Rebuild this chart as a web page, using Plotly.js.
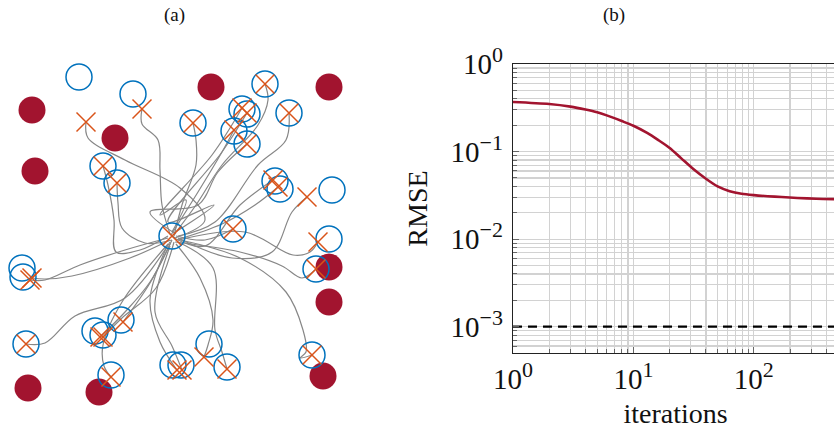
<!DOCTYPE html>
<html>
<head>
<meta charset="utf-8">
<script src="https://cdn.plot.ly/plotly-3.0.1.min.js"></script>
<style>
  html, body { margin: 0; padding: 0; background: #fff; width: 834px; height: 429px; overflow: hidden; }
  #chart { width: 846px; height: 429px; }
</style>
</head>
<body>
<div id="chart"></div>
<script>
// ---------- (a) swarm field: targets, final agent positions, obstacles ----------
const targetX = [133, 79, 103, 117, 193, 265, 242, 247, 234, 247, 289, 275, 280, 332, 172,
                 233, 329, 316, 22, 23, 26, 95, 103, 121, 111, 209, 227, 173, 181, 312];
const targetY = [94, 77, 166, 183, 123, 84, 109, 114, 131, 144, 113, 181, 189, 190, 236,
                 229, 239, 269, 268, 277, 344, 331, 335, 320, 375, 344, 367, 365, 365, 355];

const agentX = [142, 86, 103, 117, 193, 265, 242, 247, 234, 247, 289, 273, 278, 307, 172,
                233, 318, 316, 30, 32, 26, 100, 103, 123, 111, 204, 227, 177, 182, 312];
const agentY = [109, 122, 166, 183, 123, 84, 108, 113, 130, 144, 113, 180, 187, 197, 236,
                229, 242, 269, 280, 278, 344, 337, 337, 322, 377, 357, 369, 370, 370, 355];

const obstacleX = [32, 35, 115, 211, 329, 329, 329, 323, 28, 99];
const obstacleY = [110, 171, 138, 87, 87, 267, 302, 376, 388, 392];

// trajectory waypoints of each agent, from its start near the centre (final point = agent position)
const pathX = [
  [170, 162, 160, 158, 142],
  [175, 205, 180, 125, 88],
  [168, 140, 116, 114, 108],
  [172, 145, 122, 118],
  [174, 182, 196, 196],
  [176, 196, 222, 258, 268],
  [172, 186, 160, 212],
  [174, 214, 168, 222],
  [171, 198, 222],
  [176, 150, 198, 218],
  [178, 215, 258, 286],
  [174, 205, 240],
  [176, 222, 255],
  [178, 232, 272, 292],
  [170, 175],
  [176, 205],
  [178, 245, 293, 310],
  [175, 240, 282, 302],
  [168, 125, 80, 45],
  [170, 130, 72, 45],
  [170, 125, 75, 45],
  [172, 150, 125],
  [174, 156, 122],
  [170, 150],
  [168, 122, 103, 104],
  [176, 200, 213, 208],
  [178, 213, 215, 222],
  [168, 150, 160],
  [170, 155, 172],
  [180, 240, 286, 303, 306, 300]
];
const pathY = [
  [234, 205, 170, 140, 124],
  [238, 220, 188, 160, 138],
  [236, 250, 252, 220, 185],
  [240, 243, 228, 203],
  [236, 205, 165, 140],
  [232, 205, 165, 125, 100],
  [232, 200, 215, 155],
  [233, 205, 222, 152],
  [235, 192, 152],
  [234, 212, 205, 172],
  [236, 222, 165, 140],
  [238, 246, 205],
  [240, 224, 205],
  [238, 258, 252, 212],
  [234, 238],
  [236, 240],
  [240, 232, 255, 252],
  [242, 252, 266, 278],
  [238, 250, 265, 280],
  [240, 258, 276, 279],
  [242, 298, 316, 343],
  [240, 282, 312],
  [242, 288, 318],
  [244, 283],
  [244, 302, 345, 366],
  [244, 278, 320, 345],
  [242, 268, 330, 352],
  [244, 300, 342],
  [246, 312, 346],
  [240, 258, 292, 330, 352, 358]
];

// ---------- (b) convergence of the RMSE ----------
const iterations = [1, 2, 3, 4, 5, 6, 8, 10, 13, 16, 20, 25, 32, 40, 50, 63, 79, 100,
                    130, 170, 230, 330, 500];
const rmse = [0.368, 0.349, 0.326, 0.302, 0.281, 0.259, 0.223, 0.197, 0.163, 0.136, 0.110,
              0.0836, 0.0619, 0.0489, 0.0400, 0.0353, 0.0330, 0.0318, 0.0309, 0.0302,
              0.0295, 0.0289, 0.0286];
const tolerance = 1e-3;

const xTickVals = [1, 10, 100];
const xTickExps = ['0', '1', '2'];
const yTickVals = [1e-3, 1e-2, 1e-1, 1];
const yTickExps = ['\u22123', '\u22122', '\u22121', '0'];

// ---------- styling ----------
const BLUE = '#0072BD', ORANGE = '#D95319', RED = '#A2142F', GREY = 'rgb(135,135,135)';
const SERIF = '"Liberation Serif", "DejaVu Serif", serif';
const W = 846, H = 429;
const powerLabel = e => '10<sup><span style="font-size:22px">' + e + '</span></sup>';

// minor grid positions: digits 2..9 of every decade
function minorLogTicks(lo, hi) {
  const vals = [];
  for (let e = lo; e <= hi; e++) {
    for (let d = 2; d <= 9; d++) vals.push(d * Math.pow(10, e));
  }
  return vals;
}

const traces = [];

traces.push({
  x: obstacleX, y: obstacleY, xaxis: 'x', yaxis: 'y',
  mode: 'markers', type: 'scatter', hoverinfo: 'skip',
  marker: { symbol: 'circle', size: 27, color: RED, line: { width: 0 } }
});

pathX.forEach((px, i) => {
  traces.push({
    x: px.concat([agentX[i]]), y: pathY[i].concat([agentY[i]]),
    xaxis: 'x', yaxis: 'y', type: 'scatter', mode: 'lines', hoverinfo: 'skip',
    line: { color: GREY, width: 1.2, shape: 'spline', smoothing: 1 }
  });
});

traces.push({
  x: targetX, y: targetY, xaxis: 'x', yaxis: 'y',
  mode: 'markers', type: 'scatter', hoverinfo: 'skip',
  marker: { symbol: 'circle-open', size: 26, color: BLUE, line: { width: 1.5, color: BLUE } }
});

traces.push({
  x: agentX, y: agentY, xaxis: 'x', yaxis: 'y',
  mode: 'markers', type: 'scatter', hoverinfo: 'skip',
  marker: { symbol: 'x-thin-open', size: 19, color: ORANGE, line: { width: 1.5, color: ORANGE } }
});

traces.push({
  x: [iterations[0], iterations[iterations.length - 1]], y: [tolerance, tolerance],
  xaxis: 'x2', yaxis: 'y2', type: 'scatter', mode: 'lines', hoverinfo: 'skip',
  line: { color: '#000', width: 2.2, dash: '9px,6px' }
});

traces.push({
  x: iterations, y: rmse, xaxis: 'x2', yaxis: 'y2',
  type: 'scatter', mode: 'lines', hoverinfo: 'skip',
  line: { color: RED, width: 2.6, shape: 'spline', smoothing: 0.8 }
});

const GRID = '#d2d2d2';
const logAxisCommon = {
  type: 'log', tickmode: 'array', ticks: 'inside', ticklen: 6, tickwidth: 1, tickcolor: '#666',
  showgrid: true, gridcolor: GRID, gridwidth: 1.2,
  showline: true, linecolor: '#222', linewidth: 1.2, mirror: true,
  zeroline: false, fixedrange: true,
  tickfont: { family: SERIF, size: 29, color: '#111' }
};

const layout = {
  width: W, height: H,
  margin: { l: 0, r: 0, t: 0, b: 0 },
  paper_bgcolor: '#fff', plot_bgcolor: 'rgba(0,0,0,0)',
  showlegend: false,
  font: { family: SERIF, color: '#111' },
  xaxis: { domain: [0, 350 / W], range: [0, 350], visible: false, fixedrange: true },
  yaxis: { domain: [0, 1], range: [H, 0], visible: false, fixedrange: true },
  xaxis2: Object.assign({}, logAxisCommon, {
    domain: [513 / W, 838 / W], anchor: 'y2',
    range: [0, Math.log10(500)],
    tickvals: xTickVals, ticktext: xTickExps.map(powerLabel),
    minor: { tickmode: 'array', tickvals: minorLogTicks(0, 2), ticks: 'inside', ticklen: 4,
             tickcolor: '#666', showgrid: true, gridcolor: GRID, gridwidth: 1.2 },
    title: { text: 'iterations', font: { family: SERIF, size: 28, color: '#111' }, standoff: 10 }
  }),
  yaxis2: Object.assign({}, logAxisCommon, {
    domain: [(H - 353) / H, (H - 64) / H], anchor: 'x2',
    range: [Math.log10(5e-4), 0],
    tickvals: yTickVals, ticktext: yTickExps.map(powerLabel),
    ticklabelstandoff: 3,
    minor: { tickmode: 'array', tickvals: minorLogTicks(-4, -1), ticks: 'inside', ticklen: 4,
             tickcolor: '#666', showgrid: true, gridcolor: GRID, gridwidth: 1.2 },
    title: { text: 'RMSE', font: { family: SERIF, size: 28, color: '#111' }, standoff: 14 }
  }),
  annotations: [
    { text: '(a)', x: 174 / W, y: (H - 15) / H, xref: 'paper', yref: 'paper',
      xanchor: 'center', yanchor: 'middle', showarrow: false, font: { family: SERIF, size: 19 } },
    { text: '(b)', x: 614 / W, y: (H - 15) / H, xref: 'paper', yref: 'paper',
      xanchor: 'center', yanchor: 'middle', showarrow: false, font: { family: SERIF, size: 19 } }
  ]
};

Plotly.newPlot('chart', traces, layout, { staticPlot: true, displayModeBar: false });
</script>
</body>
</html>
